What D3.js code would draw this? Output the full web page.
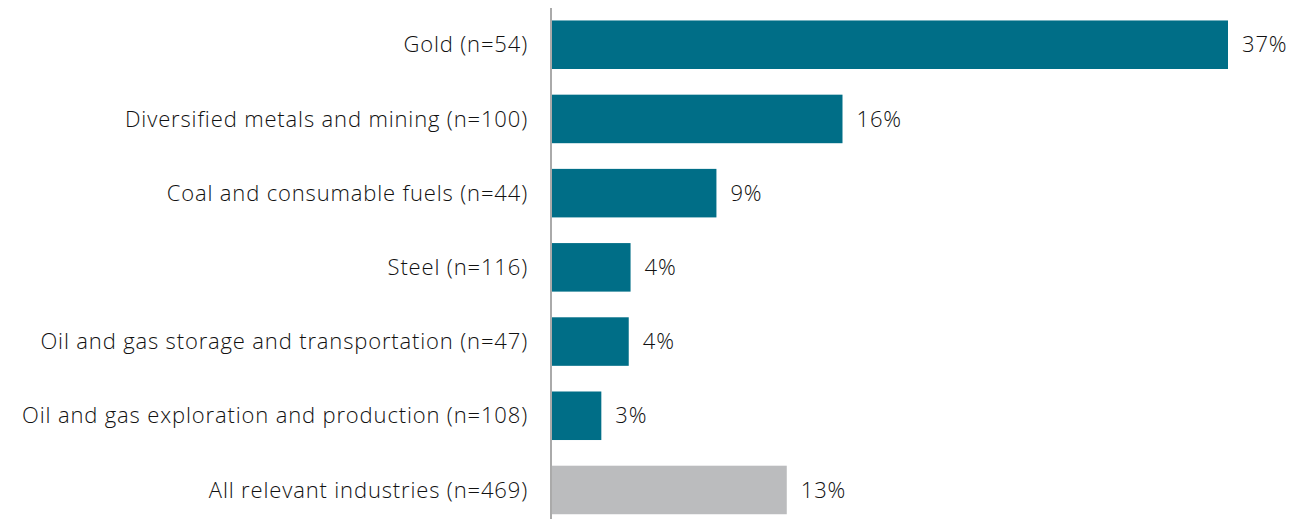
<!DOCTYPE html>
<html>
<head>
<meta charset="utf-8">
<script src="https://cdn.jsdelivr.net/npm/d3@7"></script>
<style>
  body { margin: 0; background: #fff; }
  svg text { font-family: "Open Sans", Roboto, sans-serif; font-weight: 300; fill: #111; letter-spacing: 0.85px; }
</style>
</head>
<body>
<div id="chart"></div>
<script>
const categories = [
  "Gold (n=54)",
  "Diversified metals and mining (n=100)",
  "Coal and consumable fuels (n=44)",
  "Steel (n=116)",
  "Oil and gas storage and transportation (n=47)",
  "Oil and gas exploration and production (n=108)",
  "All relevant industries (n=469)"
];
const values = [37.0, 15.9, 9.0, 4.3, 4.2, 2.7, 12.85];
const valueLabels = ["37%", "16%", "9%", "4%", "4%", "3%", "13%"];
const colors = ["#006e87", "#006e87", "#006e87", "#006e87", "#006e87", "#006e87", "#bbbcbe"];

const width = 1294, height = 519;
const axisX = 551;

const svg = d3.select("#chart").append("svg")
  .attr("width", width)
  .attr("height", height);

const x = d3.scaleLinear()
  .domain([0, 37])
  .range([axisX + 1, 1228]);

const y = d3.scaleBand()
  .domain(categories)
  .range([8, 526.7])
  .paddingInner(0.346)
  .paddingOuter(0.168);

svg.selectAll("rect.bar")
  .data(categories)
  .join("rect")
  .attr("class", "bar")
  .attr("x", x(0))
  .attr("y", d => y(d))
  .attr("width", (d, i) => x(values[i]) - x(0))
  .attr("height", y.bandwidth())
  .attr("fill", (d, i) => colors[i]);

// category labels
svg.selectAll("text.cat")
  .data(categories)
  .join("text")
  .attr("class", "cat")
  .attr("x", 528)
  .attr("y", d => y(d) + y.bandwidth() / 2)
  .attr("dy", "0.35em")
  .attr("text-anchor", "end")
  .attr("font-size", "22px")
  .text(d => d);

// value labels
svg.selectAll("text.val")
  .data(categories)
  .join("text")
  .attr("class", "val")
  .attr("x", (d, i) => x(values[i]) + 14)
  .attr("y", d => y(d) + y.bandwidth() / 2)
  .attr("dy", "0.35em")
  .attr("font-size", "22px")
  .text((d, i) => valueLabels[i]);

// vertical axis line
svg.append("line")
  .attr("x1", axisX).attr("x2", axisX)
  .attr("y1", 8).attr("y2", height)
  .attr("stroke", "#aaaaaa")
  .attr("stroke-width", 2);
</script>
</body>
</html>
